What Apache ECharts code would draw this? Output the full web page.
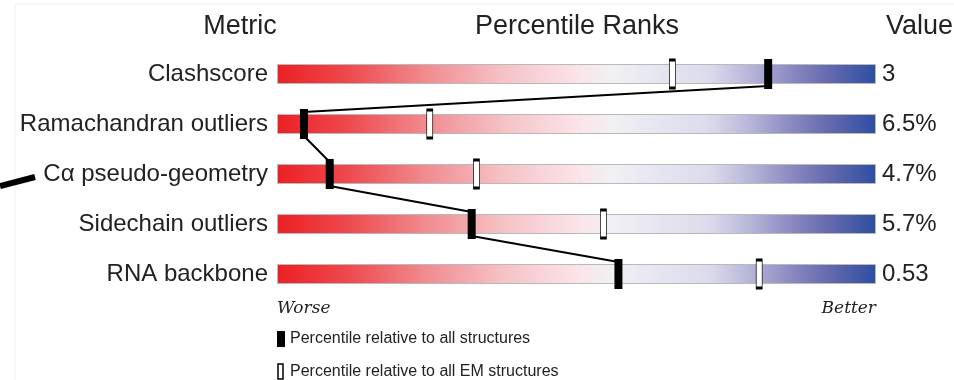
<!DOCTYPE html>
<html>
<head>
<meta charset="utf-8">
<script src="https://cdn.jsdelivr.net/npm/echarts@6/dist/echarts.min.js"></script>
<style>
  html, body { margin: 0; padding: 0; background: #fff; }
  #main { width: 954px; height: 380px; }
</style>
</head>
<body>
<div id="main"></div>
<script>
// metrics and their shown values
var metrics = ['Clashscore', 'Ramachandran outliers', 'C\u03b1 pseudo-geometry', 'Sidechain outliers', 'RNA backbone'];
var valueLabels = ['3', '6.5%', '4.7%', '5.7%', '0.53'];
// percentile relative to all structures (filled marker)
var pctAll = [82, 4.5, 8.8, 32.5, 57];
// percentile relative to all EM structures (open marker)
var pctEM = [66, 25.5, 33.3, 54.5, 80.5];

var FONT = '"Liberation Sans", Arial, sans-serif';

var chart = echarts.init(document.getElementById('main'));

// segments joining the filled markers, bottom of one to top of next
var segs = [];
for (var i = 0; i < pctAll.length - 1; i++) {
  segs.push([pctAll[i], i, pctAll[i + 1], i + 1]);
}

var barGradient = new echarts.graphic.LinearGradient(0, 0, 1, 0, [
  { offset: 0, color: '#ec2024' },
  { offset: 0.12, color: '#ee4a4e' },
  { offset: 0.25, color: '#f18c90' },
  { offset: 0.38, color: '#f5c3c7' },
  { offset: 0.5, color: '#fbe3e8' },
  { offset: 0.56, color: '#f1f0f3' },
  { offset: 0.62, color: '#e8e8f2' },
  { offset: 0.72, color: '#dcdbec' },
  { offset: 0.78, color: '#bdbbdc' },
  { offset: 0.85, color: '#8f8fc4' },
  { offset: 0.92, color: '#666aae' },
  { offset: 1, color: '#2d4ea3' }
]);

chart.setOption({
  animation: false,
  grid: { left: 277, right: 78, top: 49, height: 250 },
  xAxis: { type: 'value', min: 0, max: 100, show: false },
  yAxis: [{
    type: 'category',
    inverse: true,
    data: metrics,
    axisLine: { show: false },
    axisTick: { show: false },
    axisLabel: { fontSize: 24, color: '#222', fontFamily: FONT, margin: 9 }
  }, {
    type: 'category',
    inverse: true,
    position: 'right',
    data: valueLabels,
    axisLine: { show: false },
    axisTick: { show: false },
    axisLabel: { fontSize: 24, color: '#222', fontFamily: FONT, margin: 6 }
  }],
  series: [{
    type: 'bar',
    data: metrics.map(function () { return 100; }),
    barWidth: 20,
    silent: true,
    itemStyle: { color: barGradient, borderColor: '#b9b9b9', borderWidth: 1 },
    z: 1
  }, {
    type: 'custom',
    data: segs,
    z: 3,
    renderItem: function (params, api) {
      var a = api.coord([api.value(0), api.value(1)]);
      var b = api.coord([api.value(2), api.value(3)]);
      return {
        type: 'line',
        shape: { x1: a[0], y1: a[1] + 12, x2: b[0], y2: b[1] - 12 },
        style: { stroke: '#000', lineWidth: 2 }
      };
    }
  }, {
    type: 'scatter',
    data: pctEM.map(function (v, i) { return [v, i]; }),
    symbol: 'rect',
    symbolSize: [6, 28],
    itemStyle: { color: '#fff', borderColor: '#000', borderWidth: 1.5, opacity: 1 },
    z: 4
  }, {
    type: 'scatter',
    data: pctAll.map(function (v, i) { return [v, i]; }),
    symbol: 'rect',
    symbolSize: [8, 30],
    itemStyle: { color: '#000', opacity: 1 },
    z: 5
  }],
  graphic: [
    { type: 'rect', shape: { x: 15, y: 4, width: 960, height: 400 }, style: { fill: 'none', stroke: '#f0f0f0', lineWidth: 1 }, silent: true },
    { type: 'text', x: 240, y: 27, style: { text: 'Metric', fontSize: 27, fontFamily: FONT, fill: '#222', align: 'center', verticalAlign: 'middle' } },
    { type: 'text', x: 577, y: 27, style: { text: 'Percentile Ranks', fontSize: 27, fontFamily: FONT, fill: '#222', align: 'center', verticalAlign: 'middle' } },
    { type: 'text', x: 886, y: 27, style: { text: 'Value', fontSize: 27, fontFamily: FONT, fill: '#222', align: 'left', verticalAlign: 'middle' } },
    { type: 'text', x: 277, y: 309, style: { text: 'Worse', fontSize: 17, fontStyle: 'italic', fontFamily: '"DejaVu Serif", serif', fill: '#222', align: 'left', verticalAlign: 'middle' } },
    { type: 'text', x: 876, y: 309, style: { text: 'Better', fontSize: 17, fontStyle: 'italic', fontFamily: '"DejaVu Serif", serif', fill: '#222', align: 'right', verticalAlign: 'middle' } },
    { type: 'rect', shape: { x: 277, y: 331, width: 8, height: 16 }, style: { fill: '#000' } },
    { type: 'text', x: 290, y: 339, style: { text: 'Percentile relative to all structures', fontSize: 16, fontFamily: FONT, fill: '#222', verticalAlign: 'middle' } },
    { type: 'rect', shape: { x: 278, y: 364, width: 5, height: 15 }, style: { fill: '#fff', stroke: '#000', lineWidth: 1.5 } },
    { type: 'text', x: 290, y: 372, style: { text: 'Percentile relative to all EM structures', fontSize: 16, fontFamily: FONT, fill: '#222', verticalAlign: 'middle' } },
    { type: 'line', shape: { x1: 0, y1: 186, x2: 35, y2: 177 }, style: { stroke: '#000', lineWidth: 6 } }
  ]
});
</script>
</body>
</html>
